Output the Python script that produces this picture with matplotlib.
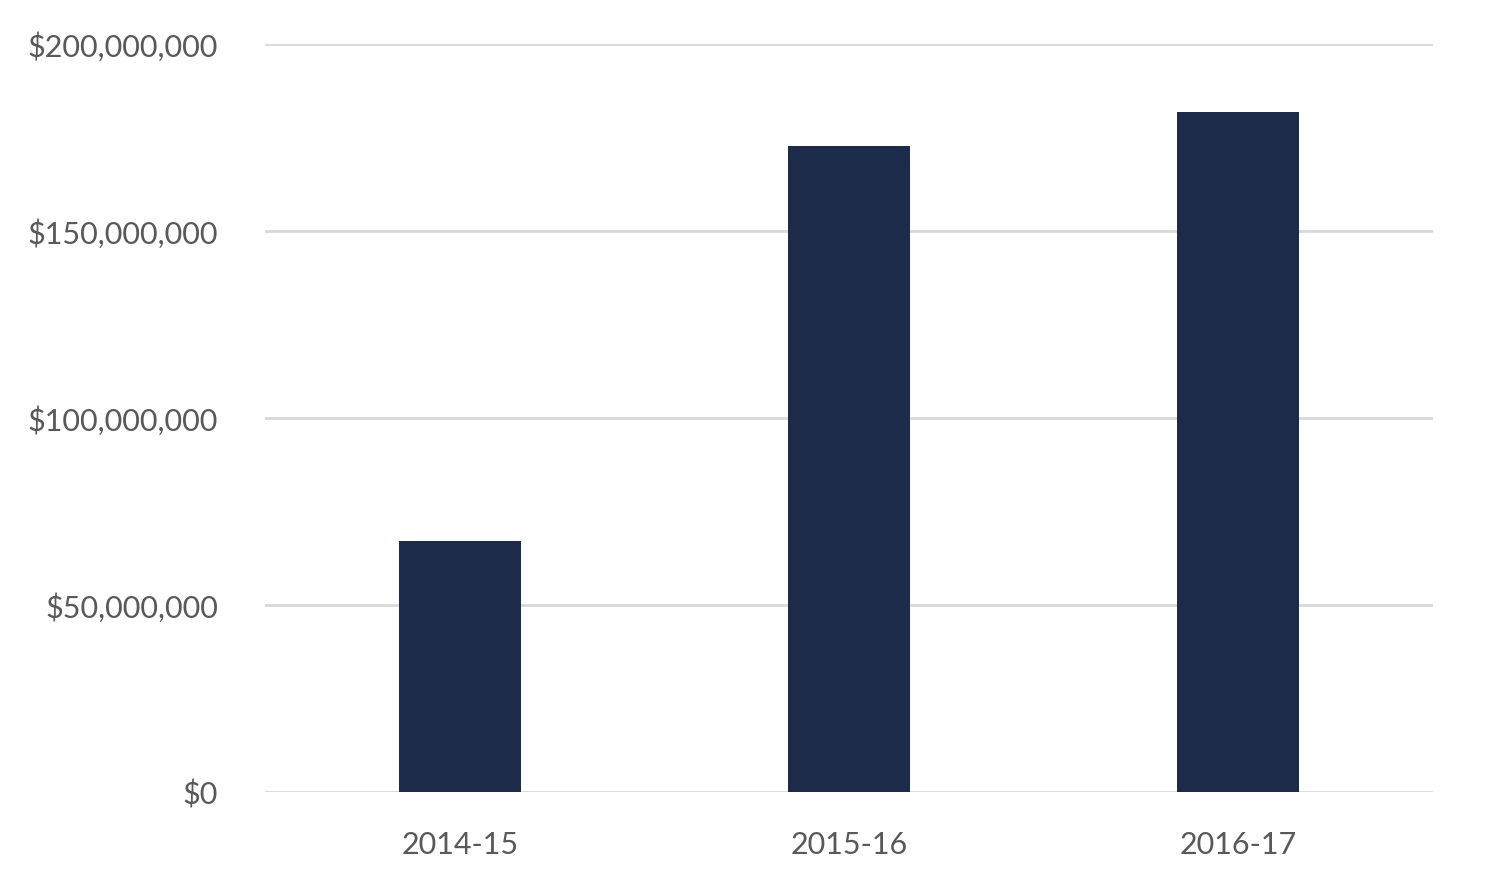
import matplotlib
matplotlib.use("Agg")
import matplotlib.pyplot as plt
from matplotlib.ticker import FuncFormatter

years = ["2014-15", "2015-16", "2016-17"]
amounts = [67_000_000, 172_800_000, 181_800_000]
y_ticks = [0, 50_000_000, 100_000_000, 150_000_000, 200_000_000]

plt.rcParams["font.family"] = ["Lato", "DejaVu Sans"]

fig = plt.figure(figsize=(15, 8.81), dpi=100)
ax = fig.add_axes([0.1767, 0.101, 0.7786, 0.849])

ax.bar(range(len(years)), amounts, width=0.314, color="#1c2b4a", zorder=3)

ax.set_xlim(-0.5, len(years) - 0.5)
ax.set_ylim(0, 200_000_000)
ax.set_yticks(y_ticks)
ax.yaxis.set_major_formatter(FuncFormatter(lambda v, p: f"${v:,.0f}"))
ax.set_xticks(range(len(years)))
ax.set_xticklabels(years)

ax.grid(axis="y", color="#d9d9d9", linewidth=2, zorder=0)
for s in ax.spines.values():
    s.set_visible(False)
ax.tick_params(length=0, labelsize=22, labelcolor="#595959")
ax.tick_params(axis="y", pad=34)
ax.tick_params(axis="x", pad=28)

fig.savefig("out.png")
